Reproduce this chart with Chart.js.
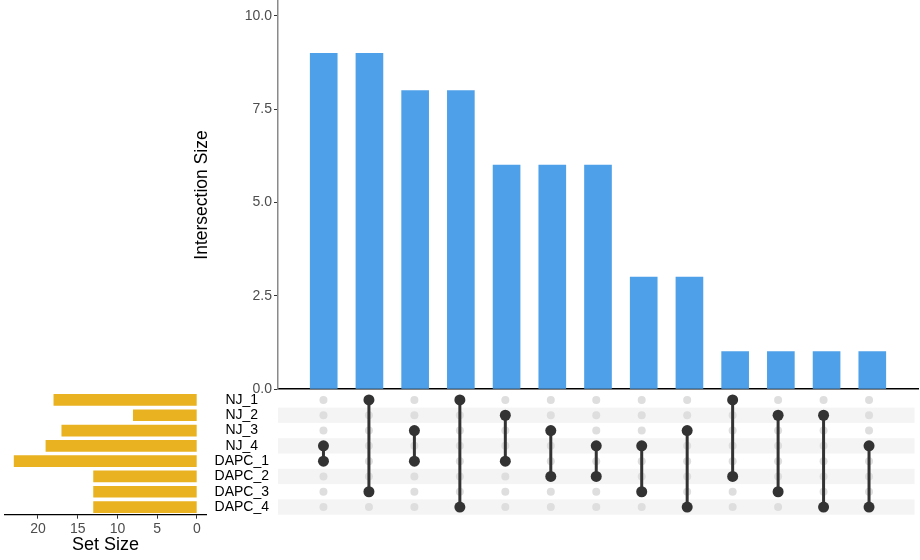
<!DOCTYPE html>
<html>
<head>
<meta charset="utf-8">
<script src="https://cdn.jsdelivr.net/npm/chart.js@4/dist/chart.umd.min.js"></script>
<style>
  body { margin: 0; background: #fff; }
  #wrap { position: relative; width: 920px; height: 560px; }
  #wrap canvas { position: absolute; left: 0; top: 0; width: 920px; height: 560px; }
</style>
</head>
<body>
<div id="wrap">
  <canvas id="sizes" width="920" height="560"></canvas>
  <canvas id="matrix" width="920" height="560"></canvas>
  <canvas id="sets" width="920" height="560"></canvas>
</div>
<script>
// sets, top to bottom in the matrix
const setNames = ["NJ_1", "NJ_2", "NJ_3", "NJ_4", "DAPC_1", "DAPC_2", "DAPC_3", "DAPC_4"];
const setSize = [18, 8, 17, 19, 23, 13, 13, 13];

// intersections, left to right
const intersectionSize = [9, 9, 8, 8, 6, 6, 6, 3, 3, 1, 1, 1, 1];
const members = [
  ["NJ_4", "DAPC_1"], ["NJ_1", "DAPC_3"], ["NJ_3", "DAPC_1"], ["NJ_1", "DAPC_4"],
  ["NJ_2", "DAPC_1"], ["NJ_3", "DAPC_2"], ["NJ_4", "DAPC_2"], ["NJ_4", "DAPC_3"],
  ["NJ_3", "DAPC_4"], ["NJ_1", "DAPC_2"], ["NJ_2", "DAPC_3"], ["NJ_2", "DAPC_4"],
  ["NJ_4", "DAPC_4"]
];

// tick labels
const sizeTicks = [0, 2.5, 5, 7.5, 10];
const setTicks = [0, 5, 10, 15, 20];

Chart.defaults.font.family = "'Liberation Sans', Arial, sans-serif";

// matrix area: rows from 392.3 to 514.7, columns from 278 to 918
const fixY = (w) => (s) => { s.width = w; s.paddingTop = 0; s.paddingBottom = 0; };

//intersection size bars
new Chart(document.getElementById("sizes"), {
  type: "bar",
  data: {
    datasets: [{
      data: intersectionSize.map((v, i) => ({ x: i + 1, y: v })),
      backgroundColor: "#4ea1e9",
      barThickness: 27
    }]
  },
  options: {
    responsive: false,
    animation: false,
    layout: { padding: { left: 188, right: 2, top: 1, bottom: 171 } },
    plugins: { legend: { display: false }, tooltip: { enabled: false } },
    scales: {
      x: {
        type: "linear", min: 0, max: 14, offset: false,
        ticks: { display: false },
        grid: { display: false },
        border: { color: "#000", width: 1.5 },
        afterFit: (s) => { s.height = 0; s.paddingLeft = 0; s.paddingRight = 0; }
      },
      y: {
        min: 0, max: 10.4,
        afterBuildTicks: (s) => { s.ticks = sizeTicks.map((v) => ({ value: v })); },
        ticks: { callback: (v) => v.toFixed(1), color: "#4d4d4d", font: { size: 14 }, padding: 2 },
        grid: { drawOnChartArea: false, tickLength: 4, color: "#333" },
        border: { color: "#8a8a8a", width: 1.5 },
        title: { display: true, text: "Intersection Size", color: "#000", font: { size: 17.5 } },
        afterFit: fixY(90)
      }
    }
  }
});

//matrix of dots
const stripes = {
  id: "stripes",
  beforeDatasetsDraw(chart) {
    const { ctx, chartArea, scales: { y } } = chart;
    ctx.save();
    ctx.fillStyle = "#f4f4f4";
    setNames.forEach((n, i) => {
      if (i % 2 === 1) {
        const t = y.getPixelForValue(i - 0.5);
        const b = y.getPixelForValue(i + 0.5);
        ctx.fillRect(chartArea.left, t, chartArea.right - chartArea.left, b - t);
      }
    });
    ctx.restore();
  }
};

let greyDots = [];
intersectionSize.forEach((v, c) => {
  setNames.forEach((n, r) => greyDots.push({ x: c + 1, y: r }));
});

let matrixSets = members.map((m, c) => ({
  data: m.map((n) => ({ x: c + 1, y: setNames.indexOf(n) })),
  showLine: true,
  borderColor: "#333",
  borderWidth: 3,
  pointRadius: 5.5,
  pointBackgroundColor: "#333",
  pointBorderWidth: 0
}));
matrixSets.push({
  data: greyDots,
  pointRadius: 4,
  pointBackgroundColor: "#dedede",
  pointBorderWidth: 0
});

new Chart(document.getElementById("matrix"), {
  type: "scatter",
  data: { datasets: matrixSets },
  plugins: [stripes],
  options: {
    responsive: false,
    animation: false,
    layout: { padding: { left: 188, right: 2, top: 392.3, bottom: 45.3 } },
    plugins: { legend: { display: false }, tooltip: { enabled: false } },
    scales: {
      x: { type: "linear", min: 0, max: 14, display: false },
      y: {
        type: "linear", min: -0.5, max: 7.5, reverse: true,
        afterBuildTicks: (s) => { s.ticks = setNames.map((n, i) => ({ value: i })); },
        ticks: { callback: (v) => setNames[v], color: "#000", font: { size: 14 }, crossAlign: "center", padding: 9, autoSkip: false },
        grid: { display: false, drawTicks: false },
        border: { display: false },
        afterFit: fixY(90)
      }
    }
  }
});

//set size bars
new Chart(document.getElementById("sets"), {
  type: "bar",
  data: {
    labels: setNames,
    datasets: [{ data: setSize, backgroundColor: "#e9b221", barThickness: 11 }]
  },
  options: {
    indexAxis: "y",
    responsive: false,
    animation: false,
    layout: { padding: { left: 5, right: 714, top: 392.3, bottom: 0 } },
    plugins: { legend: { display: false }, tooltip: { enabled: false } },
    scales: {
      x: {
        reverse: true, min: -1.15, max: 24.15,
        afterBuildTicks: (s) => { s.ticks = setTicks.map((v) => ({ value: v })); },
        ticks: { color: "#4d4d4d", font: { size: 14 }, padding: 2 },
        grid: { drawOnChartArea: false, tickLength: 4, color: "#333" },
        border: { color: "#000", width: 1.2 },
        title: { display: true, text: "Set Size", color: "#000", font: { size: 18 } },
        afterFit: (s) => { s.height = 45.3; s.paddingLeft = 0; s.paddingRight = 0; }
      },
      y: { display: false, afterFit: (s) => { s.width = 0; } }
    }
  }
});
</script>
</body>
</html>
